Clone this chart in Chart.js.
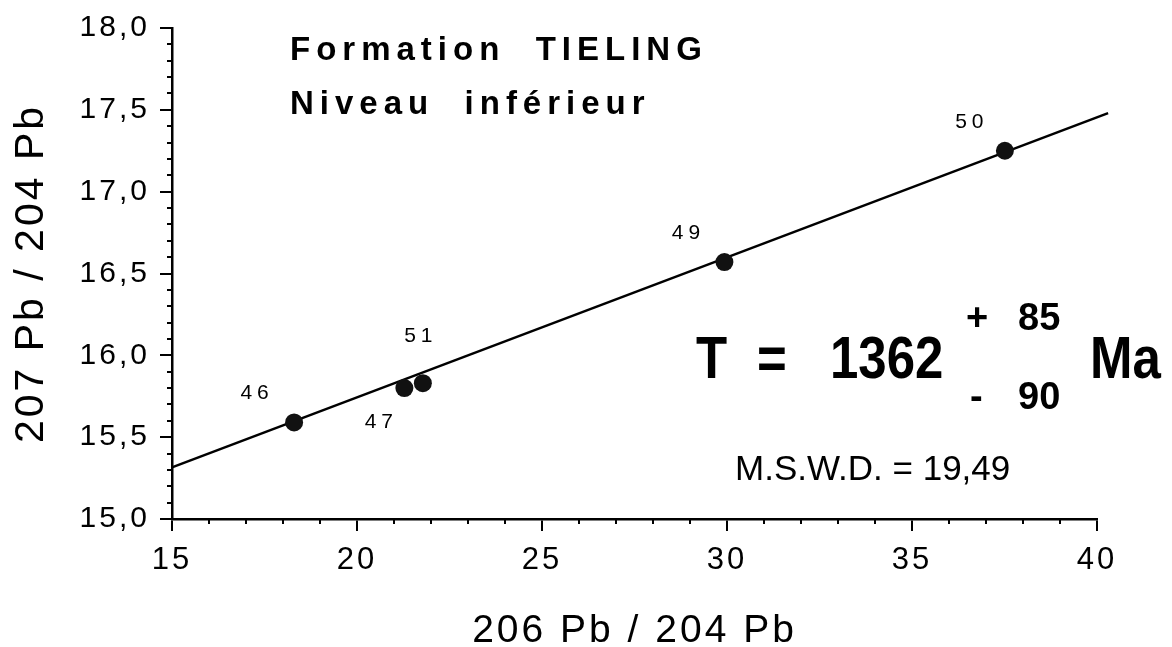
<!DOCTYPE html>
<html>
<head>
<meta charset="utf-8">
<script src="https://cdn.jsdelivr.net/npm/chart.js@4/dist/chart.umd.min.js"></script>
<style>
  body { margin: 0; background: #fff; }
  #isochrone { display: block; }
</style>
</head>
<body>
<canvas id="isochrone" width="1172" height="647"></canvas>
<script>
// echantillons (206Pb/204Pb, 207Pb/204Pb)
const sampleIds = ['46', '47', '51', '49', '50'];
const pb206 = [18.30, 21.28, 21.78, 29.93, 37.51];
const pb207 = [15.59, 15.80, 15.83, 16.57, 17.25];

// droite isochrone
const lineX = [15, 40.3];
const lineY = [15.315, 17.48];

// textes de l'encadre
const titleLines = ['Formation  TIELING', 'Niveau  inférieur'];
const ageText = ['T', '=', '1362'];
const agePlus = '85';
const ageMinus = '90';
const ageUnit = 'Ma';
const mswdText = 'M.S.W.D. = 19,49';

// decalage des numeros par rapport aux points
const idOffsets = [[-39, -29], [-25, 34], [-4, -47], [-38, -29], [-35, -29]];

const FONT = '"Liberation Sans", Arial, Helvetica, sans-serif';

function isMajor(v, step) {
    const r = v / step;
    return Math.abs(r - Math.round(r)) < 1e-6;
}

function text(ctx, str, x, y, font, spacing, sx) {
    ctx.save();
    ctx.font = font;
    ctx.letterSpacing = spacing + 'px';
    ctx.textAlign = 'left';
    ctx.textBaseline = 'alphabetic';
    ctx.fillStyle = '#000';
    ctx.translate(x, y);
    ctx.scale(sx || 1, 1);
    ctx.fillText(str, 0, 0);
    ctx.restore();
}

const spacingPlugin = {
    id: 'spacing',
    beforeDraw(chart) {
        chart.ctx.letterSpacing = '3px';
    }
};

const decorPlugin = {
    id: 'decor',
    afterDraw(chart) {
        const ctx = chart.ctx;
        const xs = chart.scales.x;
        const ys = chart.scales.y;
        const area = chart.chartArea;

        // petites graduations
        ctx.save();
        ctx.strokeStyle = '#000';
        ctx.lineWidth = 2;
        ctx.beginPath();
        for (let v = 15; v <= 40; v++) {
            if (isMajor(v, 5)) continue;
            const px = Math.round(xs.getPixelForValue(v));
            ctx.moveTo(px, area.bottom);
            ctx.lineTo(px, area.bottom + 5);
        }
        for (let i = 0; i <= 30; i++) {
            const v = 15 + i / 10;
            if (i % 5 === 0) continue;
            const py = Math.round(ys.getPixelForValue(v));
            ctx.moveTo(area.left - 5, py);
            ctx.lineTo(area.left, py);
        }
        ctx.stroke();
        ctx.restore();

        // numeros des echantillons
        const meta = chart.getDatasetMeta(0);
        ctx.save();
        ctx.font = '21px ' + FONT;
        ctx.letterSpacing = '5px';
        ctx.textAlign = 'center';
        ctx.textBaseline = 'middle';
        ctx.fillStyle = '#000';
        meta.data.forEach((pt, i) => {
            ctx.fillText(sampleIds[i], pt.x + idOffsets[i][0] + 2, pt.y + idOffsets[i][1]);
        });
        ctx.restore();

        // titre
        text(ctx, titleLines[0], 290, 60, 'bold 33px ' + FONT, 6);
        text(ctx, titleLines[1], 290, 114, 'bold 33px ' + FONT, 6);

        // age
        const big = 'bold 60px ' + FONT;
        text(ctx, ageText[0], 696, 378, big, 0, 0.85);
        text(ctx, ageText[1], 757, 378, big, 0, 0.85);
        text(ctx, ageText[2], 830, 378, big, 0, 0.85);
        text(ctx, '+', 966, 330, 'bold 38px ' + FONT, 0);
        text(ctx, agePlus, 1018, 330, 'bold 38px ' + FONT, 0);
        text(ctx, '-', 970, 409, 'bold 38px ' + FONT, 0);
        text(ctx, ageMinus, 1018, 409, 'bold 38px ' + FONT, 0);
        text(ctx, ageUnit, 1090, 378, big, 0, 0.85);

        text(ctx, mswdText, 735, 480, '35px ' + FONT, 0);
    }
};

const ctx = document.getElementById('isochrone');
new Chart(ctx, {
    type: 'scatter',
    data: {
        datasets: [{
            label: 'echantillons',
            data: pb206.map((x, i) => ({ x: x, y: pb207[i] })),
            backgroundColor: '#111',
            borderWidth: 0,
            pointRadius: 9,
            order: 0
        },
        {
            label: 'isochrone',
            data: lineX.map((x, i) => ({ x: x, y: lineY[i] })),
            showLine: true,
            borderColor: '#000',
            borderWidth: 2.5,
            pointRadius: 0,
            clip: false,
            order: 1
        }]
    },
    options: {
        responsive: false,
        devicePixelRatio: 1,
        animation: false,
        layout: {
            padding: { top: 21, right: 75, bottom: 0, left: 0 }
        },
        plugins: {
            legend: { display: false },
            tooltip: { enabled: false }
        },
        scales: {
            x: {
                type: 'linear',
                position: 'bottom',
                min: 15,
                max: 40,
                afterFit: s => { s.height = 128; },
                border: { color: '#000', width: 2.5 },
                grid: {
                    drawOnChartArea: false,
                    tickLength: 12,
                    lineWidth: 2,
                    color: c => isMajor(c.tick.value, 5) ? '#000' : 'rgba(0,0,0,0)'
                },
                ticks: {
                    stepSize: 1,
                    autoSkip: false,
                    maxRotation: 0,
                    padding: 11,
                    color: '#000',
                    font: { family: FONT, size: 31 },
                    callback: v => isMajor(v, 5) ? String(v) : ''
                },
                title: {
                    display: true,
                    text: '206 Pb / 204 Pb',
                    color: '#000',
                    padding: { top: 0, bottom: 0 },
                    font: { family: FONT, size: 39, lineHeight: 0.8 }
                }
            },
            y: {
                type: 'linear',
                min: 15,
                max: 18,
                afterFit: s => { s.width = 172; },
                border: { color: '#000', width: 2.5 },
                grid: {
                    drawOnChartArea: false,
                    tickLength: 12,
                    lineWidth: 2,
                    color: c => isMajor(c.tick.value, 0.5) ? '#000' : 'rgba(0,0,0,0)'
                },
                ticks: {
                    stepSize: 0.1,
                    autoSkip: false,
                    padding: 10,
                    color: '#000',
                    font: { family: FONT, size: 30 },
                    callback: v => isMajor(v, 0.5) ? v.toFixed(1).replace('.', ',') : ''
                },
                title: {
                    display: true,
                    text: '207 Pb / 204 Pb',
                    color: '#000',
                    padding: { top: 7, bottom: 0 },
                    font: { family: FONT, size: 41 }
                }
            }
        }
    },
    plugins: [spacingPlugin, decorPlugin]
});
</script>
</body>
</html>
